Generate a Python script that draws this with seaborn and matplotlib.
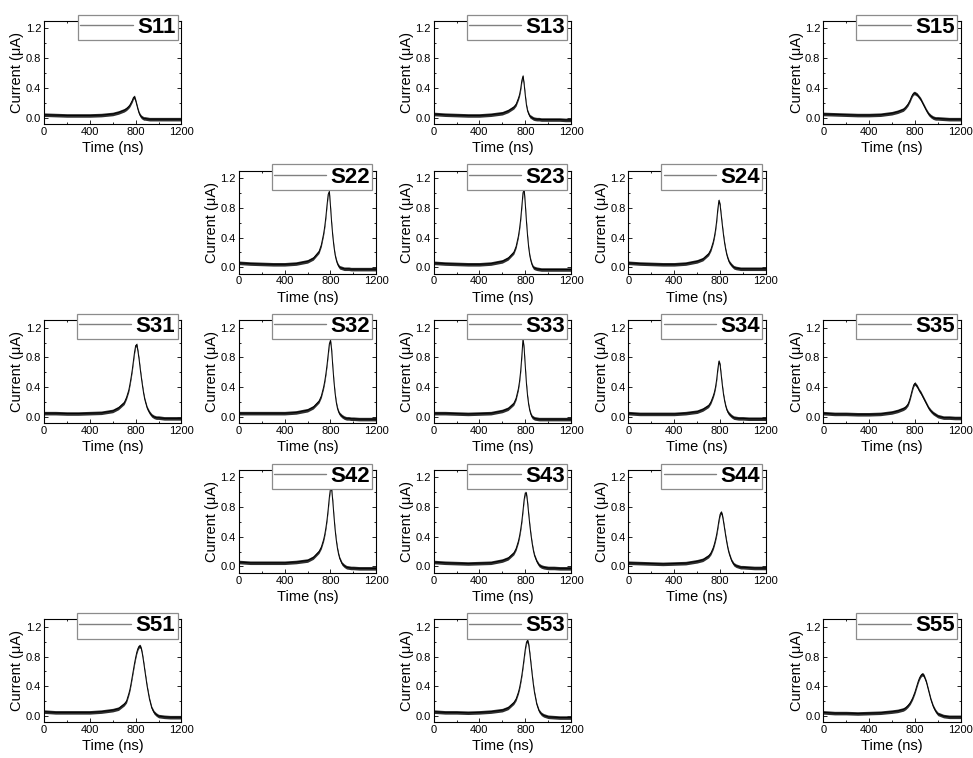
import matplotlib
matplotlib.use("Agg")
import matplotlib.pyplot as plt
from matplotlib.lines import Line2D
from matplotlib.ticker import MultipleLocator, FormatStrFormatter
import seaborn as sns

# Sampling times (ns), denser around the pulse
time_ns = [0, 100, 200, 300, 400, 500, 600, 650, 700, 720,
           740, 750, 760, 770, 780, 790, 800, 810, 820, 830,
           840, 850, 860, 870, 880, 900, 920, 940, 960, 980,
           1000, 1050, 1100, 1150, 1200]

# Current traces (uA) for each pixel Src (row, column)
S11 = [0.04, 0.035, 0.03, 0.03, 0.03, 0.035, 0.05, 0.07, 0.10, 0.12,
       0.15, 0.17, 0.20, 0.23, 0.27, 0.28, 0.23, 0.17, 0.11, 0.06,
       0.03, 0.01, 0.0, -0.01, -0.01, -0.015, -0.02, -0.02, -0.02, -0.02,
       -0.02, -0.02, -0.02, -0.02, -0.02]
S13 = [0.05, 0.04, 0.035, 0.03, 0.03, 0.04, 0.06, 0.09, 0.14, 0.18,
       0.26, 0.31, 0.39, 0.50, 0.56, 0.45, 0.30, 0.17, 0.09, 0.05,
       0.02, 0.01, 0.0, -0.01, -0.015, -0.02, -0.02, -0.025, -0.025, -0.025,
       -0.025, -0.025, -0.025, -0.03, -0.03]
S15 = [0.05, 0.045, 0.04, 0.035, 0.035, 0.04, 0.06, 0.08, 0.11, 0.14,
       0.18, 0.21, 0.24, 0.28, 0.31, 0.33, 0.33, 0.32, 0.31, 0.29,
       0.27, 0.25, 0.22, 0.19, 0.16, 0.10, 0.05, 0.02, 0.0, -0.01,
       -0.01, -0.015, -0.02, -0.02, -0.02]
S22 = [0.06, 0.05, 0.045, 0.04, 0.04, 0.05, 0.08, 0.12, 0.21, 0.30,
       0.45, 0.55, 0.68, 0.84, 0.98, 1.02, 0.82, 0.60, 0.42, 0.28,
       0.17, 0.10, 0.05, 0.02, 0.0, -0.01, -0.02, -0.02, -0.02, -0.025,
       -0.025, -0.025, -0.025, -0.025, -0.025]
S23 = [0.06, 0.05, 0.045, 0.04, 0.04, 0.05, 0.08, 0.12, 0.20, 0.28,
       0.42, 0.52, 0.65, 0.82, 1.00, 1.05, 0.85, 0.62, 0.42, 0.26,
       0.15, 0.08, 0.03, 0.0, -0.01, -0.02, -0.025, -0.03, -0.03, -0.03,
       -0.03, -0.03, -0.03, -0.03, -0.03]
S24 = [0.06, 0.05, 0.045, 0.04, 0.04, 0.05, 0.08, 0.11, 0.18, 0.24,
       0.34, 0.41, 0.50, 0.62, 0.78, 0.90, 0.84, 0.70, 0.56, 0.43,
       0.32, 0.23, 0.16, 0.11, 0.07, 0.03, 0.0, -0.01, -0.015, -0.02,
       -0.02, -0.02, -0.02, -0.02, -0.02]
S31 = [0.05, 0.05, 0.045, 0.045, 0.05, 0.055, 0.08, 0.12, 0.19, 0.26,
       0.36, 0.44, 0.53, 0.63, 0.75, 0.87, 0.96, 0.97, 0.88, 0.77,
       0.64, 0.52, 0.41, 0.31, 0.23, 0.12, 0.06, 0.02, 0.0, -0.01,
       -0.01, -0.02, -0.02, -0.02, -0.02]
S32 = [0.05, 0.05, 0.05, 0.05, 0.05, 0.06, 0.09, 0.13, 0.21, 0.28,
       0.40, 0.48, 0.58, 0.70, 0.84, 0.98, 1.03, 0.90, 0.68, 0.48,
       0.32, 0.20, 0.12, 0.07, 0.04, 0.01, -0.01, -0.02, -0.02, -0.025,
       -0.025, -0.03, -0.03, -0.03, -0.03]
S33 = [0.05, 0.05, 0.045, 0.04, 0.045, 0.05, 0.08, 0.11, 0.18, 0.25,
       0.38, 0.48, 0.62, 0.82, 1.05, 0.92, 0.68, 0.45, 0.28, 0.16,
       0.08, 0.03, 0.0, -0.01, -0.02, -0.025, -0.03, -0.03, -0.03, -0.03,
       -0.03, -0.03, -0.03, -0.03, -0.03]
S34 = [0.05, 0.04, 0.04, 0.04, 0.04, 0.05, 0.07, 0.10, 0.15, 0.20,
       0.28, 0.33, 0.40, 0.50, 0.64, 0.75, 0.70, 0.56, 0.42, 0.30,
       0.21, 0.14, 0.09, 0.06, 0.04, 0.01, -0.01, -0.015, -0.02, -0.02,
       -0.02, -0.025, -0.025, -0.025, -0.025]
S35 = [0.05, 0.04, 0.04, 0.035, 0.035, 0.04, 0.06, 0.08, 0.11, 0.13,
       0.17, 0.21, 0.26, 0.32, 0.38, 0.43, 0.45, 0.43, 0.41, 0.38,
       0.35, 0.33, 0.30, 0.27, 0.24, 0.18, 0.12, 0.08, 0.05, 0.03,
       0.01, -0.01, -0.01, -0.015, -0.015]
S42 = [0.06, 0.05, 0.05, 0.05, 0.05, 0.06, 0.08, 0.12, 0.20, 0.26,
       0.36, 0.43, 0.52, 0.63, 0.77, 0.93, 1.05, 1.04, 0.88, 0.68,
       0.50, 0.36, 0.25, 0.17, 0.11, 0.04, 0.01, -0.01, -0.015, -0.02,
       -0.02, -0.025, -0.025, -0.025, -0.025]
S43 = [0.06, 0.05, 0.045, 0.04, 0.045, 0.05, 0.08, 0.11, 0.18, 0.24,
       0.34, 0.41, 0.50, 0.61, 0.75, 0.90, 0.99, 0.98, 0.86, 0.70,
       0.55, 0.42, 0.31, 0.22, 0.15, 0.07, 0.02, 0.0, -0.01, -0.015,
       -0.02, -0.02, -0.025, -0.025, -0.025]
S44 = [0.05, 0.045, 0.04, 0.035, 0.04, 0.045, 0.07, 0.09, 0.14, 0.18,
       0.25, 0.30, 0.36, 0.43, 0.52, 0.62, 0.70, 0.73, 0.69, 0.60,
       0.50, 0.40, 0.31, 0.23, 0.17, 0.08, 0.03, 0.01, 0.0, -0.01,
       -0.01, -0.015, -0.02, -0.02, -0.02]
S51 = [0.06, 0.05, 0.05, 0.05, 0.05, 0.06, 0.08, 0.10, 0.16, 0.20,
       0.30, 0.36, 0.44, 0.53, 0.62, 0.71, 0.79, 0.86, 0.91, 0.94,
       0.94, 0.90, 0.82, 0.72, 0.61, 0.40, 0.23, 0.11, 0.05, 0.02,
       0.0, -0.01, -0.015, -0.015, -0.015]
S53 = [0.06, 0.05, 0.05, 0.045, 0.05, 0.06, 0.08, 0.11, 0.18, 0.23,
       0.32, 0.38, 0.46, 0.55, 0.66, 0.78, 0.90, 0.99, 1.02, 0.96,
       0.84, 0.70, 0.56, 0.43, 0.32, 0.16, 0.07, 0.03, 0.01, 0.0,
       -0.01, -0.015, -0.02, -0.02, -0.02]
S55 = [0.05, 0.04, 0.04, 0.035, 0.04, 0.045, 0.06, 0.07, 0.09, 0.11,
       0.14, 0.16, 0.18, 0.21, 0.24, 0.28, 0.32, 0.37, 0.42, 0.47,
       0.51, 0.54, 0.56, 0.56, 0.54, 0.46, 0.34, 0.22, 0.13, 0.07,
       0.03, 0.0, -0.01, -0.01, -0.01]

panel_names = ["S11", "S13", "S15", "S22", "S23", "S24", "S31", "S32", "S33",
               "S34", "S35", "S42", "S43", "S44", "S51", "S53", "S55"]
traces = {"S11": S11, "S13": S13, "S15": S15, "S22": S22, "S23": S23,
          "S24": S24, "S31": S31, "S32": S32, "S33": S33, "S34": S34,
          "S35": S35, "S42": S42, "S43": S43, "S44": S44, "S51": S51,
          "S53": S53, "S55": S55}

x_ticks = [0, 400, 800, 1200]
y_ticks = [0.0, 0.4, 0.8, 1.2]

sns.set_theme(style="ticks")
plt.rcParams["font.family"] = ["Liberation Sans", "DejaVu Sans"]
plt.rcParams["axes.linewidth"] = 0.8
plt.rcParams["text.color"] = "black"
plt.rcParams["axes.labelcolor"] = "black"
plt.rcParams["xtick.color"] = "black"
plt.rcParams["ytick.color"] = "black"

W, H = 973, 758
fig = plt.figure(figsize=(W / 100, H / 100), dpi=100)

ax_w, ax_h = 137.5, 103.0
noise = 0.024

for name in panel_names:
    row, col = int(name[1]), int(name[2])
    left = 44 + (col - 1) * 194.8
    top = 21 + (row - 1) * 149.6
    ax = fig.add_axes([left / W, 1 - (top + ax_h) / H, ax_w / W, ax_h / H])

    y = traces[name]
    lo = [v - noise for v in y]
    hi = [v + noise for v in y]
    ax.fill_between(time_ns, lo, hi, color="#2e2e2e", lw=0, zorder=2)
    sns.lineplot(x=time_ns, y=y, ax=ax, color="black", lw=0.7, zorder=3)

    ax.set_xlim(0, 1200)
    ax.set_ylim(-0.085, 1.3)
    ax.set_xticks(x_ticks)
    ax.set_yticks(y_ticks)
    ax.xaxis.set_minor_locator(MultipleLocator(200))
    ax.yaxis.set_minor_locator(MultipleLocator(0.2))
    ax.yaxis.set_major_formatter(FormatStrFormatter("%.1f"))
    ax.tick_params(which="both", direction="in", top=True, right=True,
                   width=0.6, colors="black", labelsize=8, pad=2)
    ax.tick_params(which="major", length=3)
    ax.tick_params(which="minor", length=1.6)
    for sp in ax.spines.values():
        sp.set_color("black")
        sp.set_linewidth(0.8)

    ax.set_xlabel("Time (ns)", fontsize=10.5, color="black", labelpad=3)
    ax.set_ylabel("Current (\u03bcA)", fontsize=10.5, color="black", labelpad=1)

    handle = Line2D([], [], color="0.5", lw=1.0)
    leg = ax.legend([handle], [name], loc="upper right",
                    bbox_to_anchor=(0.972, 1.06), borderaxespad=0,
                    borderpad=0.1, handlelength=2.35, handletextpad=0.2,
                    frameon=True, fancybox=False, framealpha=1,
                    edgecolor="0.55", labelcolor="black",
                    prop={"weight": "bold", "size": 16})
    leg.get_frame().set_linewidth(0.9)

fig.savefig("out.png", dpi=100)
